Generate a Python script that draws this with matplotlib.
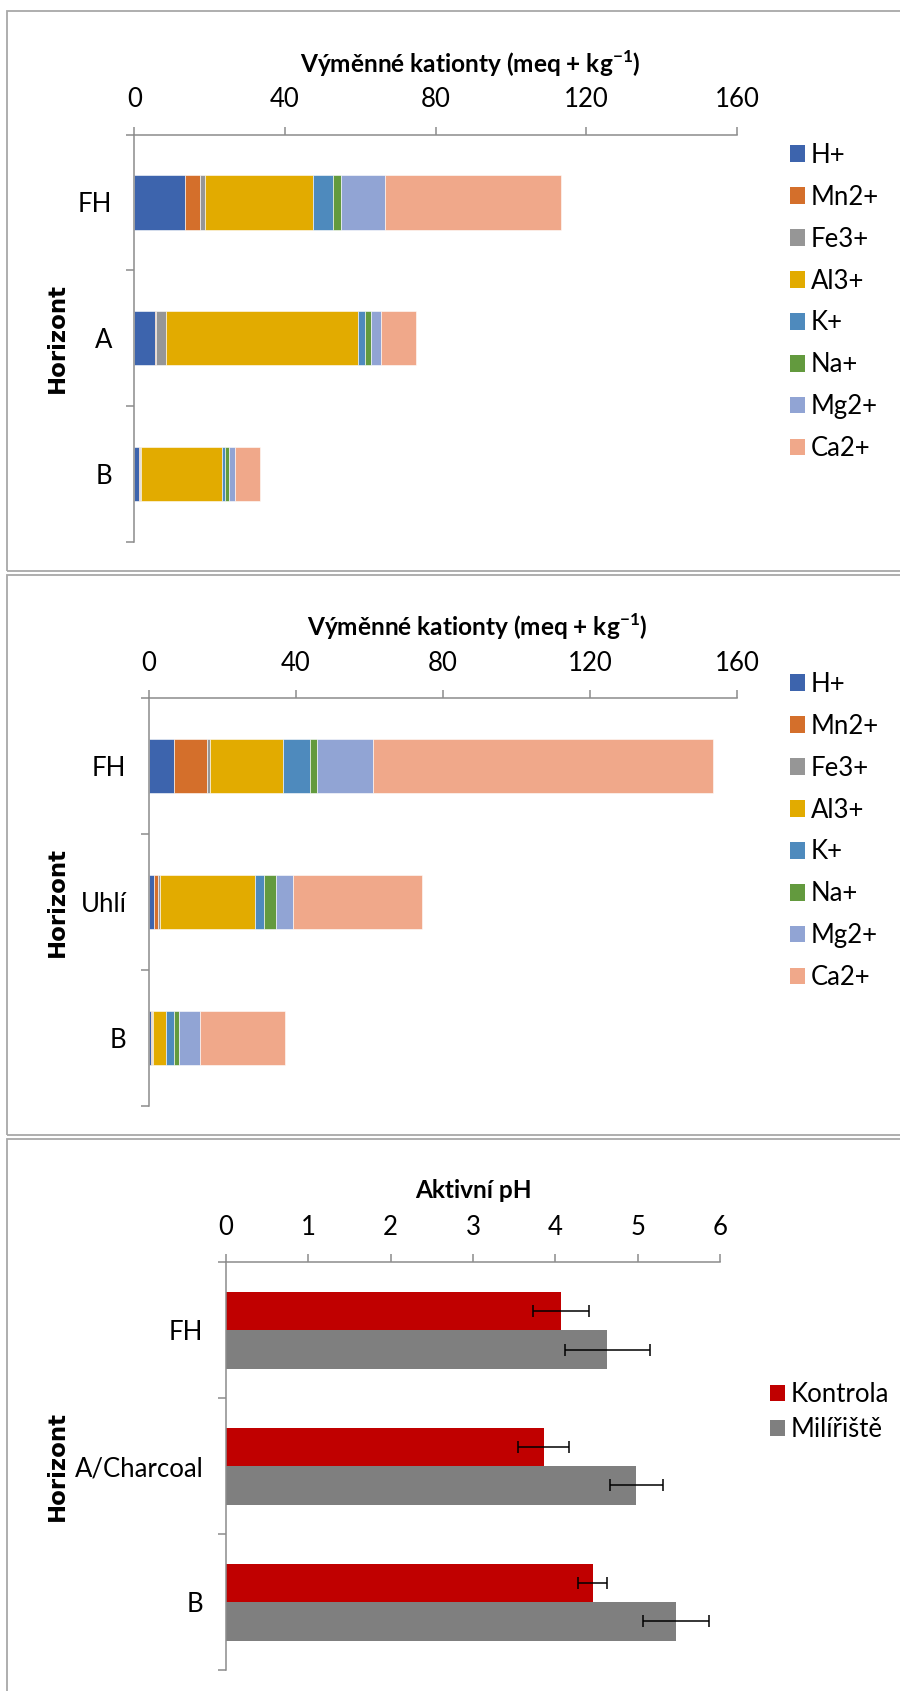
import matplotlib
matplotlib.use("Agg")
import matplotlib.pyplot as plt
from matplotlib.patches import Rectangle, Patch
import numpy as np

plt.rcParams['font.family'] = ['Lato', 'DejaVu Sans']
plt.rcParams['mathtext.fontset'] = 'custom'
plt.rcParams['mathtext.rm'] = 'Lato:bold'
plt.rcParams['mathtext.bf'] = 'Lato:bold'

# ---- data -------------------------------------------------------------
cations = ['H+', 'Mn2+', 'Fe3+', 'Al3+', 'K+', 'Na+', 'Mg2+', 'Ca2+']
cation_colors = ['#3D64AD', '#D46F2B', '#969696', '#E2AB00',
                 '#4E8ABD', '#639A3E', '#91A4D4', '#F0A88A']

# control profile
ctrl_horizons = ['FH', 'A', 'B']
ctrl_H = [13.4, 5.4, 1.24]
ctrl_Mn = [4.1, 0.45, 0.2]
ctrl_Fe = [1.15, 2.65, 0.45]
ctrl_Al = [28.7, 50.9, 21.3]
ctrl_K = [5.4, 1.95, 0.9]
ctrl_Na = [2.1, 1.4, 1.15]
ctrl_Mg = [11.7, 2.7, 1.4]
ctrl_Ca = [46.7, 9.4, 6.8]

# charcoal kiln profile
kiln_horizons = ['FH', 'Uhlí', 'B']
kiln_H = [6.9, 1.56, 0.6]
kiln_Mn = [8.9, 0.94, 0.2]
kiln_Fe = [0.8, 0.5, 0.5]
kiln_Al = [19.9, 25.8, 3.5]
kiln_K = [7.3, 2.5, 2.1]
kiln_Na = [1.9, 3.4, 1.45]
kiln_Mg = [15.3, 4.5, 5.7]
kiln_Ca = [92.4, 35.0, 22.9]

# active pH
ph_horizons = ['FH', 'A/Charcoal', 'B']
ph_groups = ['Kontrola', 'Milířiště']
ph_kontrola = [4.07, 3.86, 4.45]
ph_kontrola_err = [0.34, 0.31, 0.18]
ph_miliriste = [4.63, 4.98, 5.46]
ph_miliriste_err = [0.52, 0.32, 0.40]

ctrl_series = [ctrl_H, ctrl_Mn, ctrl_Fe, ctrl_Al, ctrl_K, ctrl_Na, ctrl_Mg, ctrl_Ca]
kiln_series = [kiln_H, kiln_Mn, kiln_Fe, kiln_Al, kiln_K, kiln_Na, kiln_Mg, kiln_Ca]

# ---- figure -----------------------------------------------------------
W, H = 900, 1691
fig = plt.figure(figsize=(W / 100, H / 100), dpi=100)
fig.patch.set_facecolor('white')

AXIS_GREY = '#8C8C8C'
BORDER_GREY = '#A8A8A8'
TICK_FS = 18.5
LEG_FS = 18.5
TITLE_FS = 17.6
YLAB_FS = 16.5


def px_axes(left, right, top, bottom):
    return fig.add_axes([left / W, 1 - bottom / H, (right - left) / W, (bottom - top) / H])


def frame(top, bottom):
    fig.patches.append(Rectangle((7 / W, 1 - bottom / H), 1.2, (bottom - top) / H,
                                 transform=fig.transFigure, fill=False,
                                 edgecolor=BORDER_GREY, linewidth=1.3))


def style_axes(ax, labels, xmax, xstep):
    n = len(labels)
    ax.set_xlim(0, xmax)
    ax.set_ylim(n - 0.5, -0.5)
    for s in ['right', 'bottom']:
        ax.spines[s].set_visible(False)
    for s in ['left', 'top']:
        ax.spines[s].set_color(AXIS_GREY)
        ax.spines[s].set_linewidth(1.1)
    ax.xaxis.set_ticks_position('top')
    ticks = np.arange(0, xmax + xstep / 2, xstep)
    ax.set_xticks(ticks)
    ax.set_xticklabels([f'{v:g}' for v in ticks])
    ax.tick_params(axis='x', direction='out', length=6, width=1.1, color=AXIS_GREY,
                   labelsize=TICK_FS, pad=10)
    ax.set_yticks(np.arange(-0.5, n, 1.0))
    ax.set_yticklabels([])
    ax.tick_params(axis='y', which='major', direction='out', length=6, width=1.1,
                   color=AXIS_GREY)
    ax.set_yticks(np.arange(n), minor=True)
    ax.set_yticklabels(labels, minor=True)
    ax.tick_params(axis='y', which='minor', length=0, labelsize=TICK_FS, pad=16)
    ax.set_facecolor('none')


def legend_box(ax, handles, labels, x, y, spacing):
    ax.legend(handles, labels, loc='center left', bbox_to_anchor=(x / W, 1 - y / H),
              bbox_transform=fig.transFigure, frameon=False, fontsize=LEG_FS,
              handlelength=0.6, handleheight=0.6, handletextpad=0.2,
              labelspacing=spacing, borderpad=0, borderaxespad=0)


def cation_panel(top, bottom, ax_top, ax_bottom, left, labels, series,
                 title_x, title_y, leg_y):
    frame(top, bottom)
    ax = px_axes(left, 737, ax_top, ax_bottom)
    y = np.arange(len(labels))
    start = np.zeros(len(labels))
    for name, vals, col in zip(cations, series, cation_colors):
        ax.barh(y, vals, left=start, height=0.40, color=col, edgecolor='white',
                linewidth=0.4, label=name)
        start += np.array(vals)
    style_axes(ax, labels, 160, 40)
    fig.text(title_x / W, 1 - title_y / H,
             r'Výměnné kationty (meq + kg$^{\mathrm{-1}}$)', ha='center', va='center',
             fontsize=TITLE_FS, fontweight='bold')
    fig.text(57 / W, 1 - (ax_top + ax_bottom) / 2 / H, 'Horizont',
             rotation=90, ha='center', va='center', fontsize=YLAB_FS, fontweight='bold',
             family='DejaVu Sans')
    handles = [Patch(facecolor=c, edgecolor='none') for c in cation_colors]
    legend_box(ax, handles, cations, 790, leg_y, 0.66)
    return ax


cation_panel(11, 571, 134.5, 542, 134.3, ctrl_horizons, ctrl_series, 470, 64, 302)
cation_panel(575, 1135, 698, 1105.7, 148.7, kiln_horizons, kiln_series, 477, 627, 831)

# ---- active pH panel --------------------------------------------------
frame(1139.3, 1760)
ax3 = px_axes(225.6, 720.4, 1262.4, 1670)
y = np.arange(len(ph_horizons))
bh = 0.283
err_kw = dict(ecolor='black', elinewidth=1.1, capsize=4.5, capthick=1.1)
ax3.barh(y - bh / 2, ph_kontrola, height=bh, color='#C00000', xerr=ph_kontrola_err,
         error_kw=err_kw, label=ph_groups[0])
ax3.barh(y + bh / 2, ph_miliriste, height=bh, color='#7F7F7F', xerr=ph_miliriste_err,
         error_kw=err_kw, label=ph_groups[1])
style_axes(ax3, ph_horizons, 6, 1)
fig.text(473 / W, 1 - 1190 / H, 'Aktivní pH', ha='center', va='center',
         fontsize=TITLE_FS, fontweight='bold')
fig.text(57 / W, 1 - 1466 / H, 'Horizont', rotation=90, ha='center', va='center',
         fontsize=YLAB_FS, fontweight='bold', family='DejaVu Sans')
h3, l3 = ax3.get_legend_handles_labels()
legend_box(ax3, h3, l3, 770, 1412, 0.4)

fig.savefig('out.png', dpi=100)
